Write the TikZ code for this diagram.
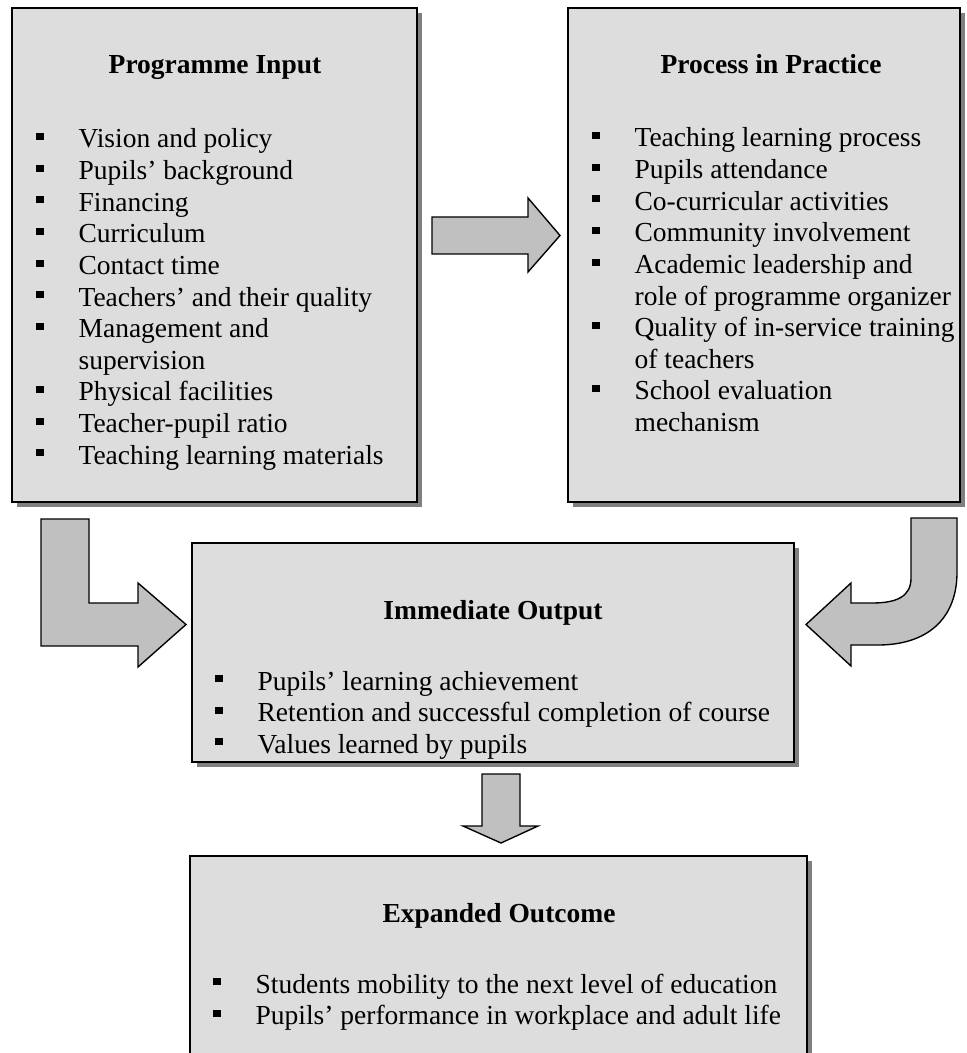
\documentclass[tikz,border=0pt]{standalone}
\usepackage{fontspec}
\setmainfont{Liberation Serif}
\usepackage{xcolor}
\definecolor{boxgray}{RGB}{221,221,221}
\definecolor{arrowgray}{RGB}{192,192,192}
\definecolor{shadowgray}{RGB}{128,128,128}
\usetikzlibrary{fit,shadows}
\newcommand{\bul}{\makebox[18.4pt][l]{\rule[3.4pt]{3.1pt}{3.1pt}}}

\begin{document}
\begin{tikzpicture}[
  x=0.4364pt, y=-0.4364pt,
  font=\fontsize{12}{13.8}\selectfont,
  box/.style={draw, line width=0.8pt, fill=boxgray, inner sep=0pt,
              drop shadow={shadow xshift=2.2pt, shadow yshift=-2.2pt,
                           fill=shadowgray, opacity=1}},
  head/.style={font=\fontsize{12}{13.8}\selectfont\bfseries, anchor=base,
               inner sep=0pt},
  items/.style={anchor=base west, inner sep=0pt},
  blockarrow/.style={draw, line width=0.6pt, fill=arrowgray, line join=miter},
]
\useasboundingbox (0,0) rectangle (967,1053);

% --- programme input ---
\node[box, fit={(12,8) (417,502)}] (input) {};
\node[head] (inputhead) at (215,74) {Programme Input};
\node[items] (inputlist) at (36,148) {\begin{tabular}[t]{@{}l@{}l@{}}
  \bul & Vision and policy\\
  \bul & Pupils' background\\
  \bul & Financing\\
  \bul & Curriculum\\
  \bul & Contact time\\
  \bul & Teachers' and their quality\\
  \bul & Management and\\
       & supervision\\
  \bul & Physical facilities\\
  \bul & Teacher-pupil ratio\\
  \bul & Teaching learning materials
\end{tabular}};

% --- process in practice ---
\node[box, fit={(568,8) (960,502)}] (process) {};
\node[head] (processhead) at (771,74) {Process in Practice};
\node[items] (processlist) at (592,147) {\begin{tabular}[t]{@{}l@{}l@{}}
  \bul & Teaching learning process\\
  \bul & Pupils attendance\\
  \bul & Co-curricular activities\\
  \bul & Community involvement\\
  \bul & Academic leadership and\\
       & role of programme organizer\\
  \bul & Quality of in-service training\\
       & of teachers\\
  \bul & School evaluation\\
       & mechanism
\end{tabular}};

% --- immediate output ---
\node[box, fit={(192,543) (794,762)}] (output) {};
\node[head] (outputhead) at (493,619) {Immediate Output};
\node[items] (outputlist) at (215,690) {\begin{tabular}[t]{@{}l@{}l@{}}
  \bul & Pupils' learning achievement\\
  \bul & Retention and successful completion of course\\
  \bul & Values learned by pupils
\end{tabular}};

% --- expanded outcome ---
\node[box, fit={(190,856) (807,1064)}] (outcome) {};
\node[head] (outcomehead) at (499,922) {Expanded Outcome};
\node[items] (outcomelist) at (213,993) {\begin{tabular}[t]{@{}l@{}l@{}}
  \bul & Students mobility to the next level of education\\
  \bul & Pupils' performance in workplace and adult life
\end{tabular}};

% --- block arrows ---
\draw[blockarrow] (432,217) -- (528,217) -- (528,198) -- (560,235.5)
  -- (528,272) -- (528,254) -- (432,254) -- cycle;
\draw[blockarrow] (41,519) -- (89,519) -- (89,603) -- (138,603) -- (138,583)
  -- (186,624.5) -- (138,667) -- (138,646) -- (41,646) -- cycle;
\draw[blockarrow] (911,518) -- (911,578) .. controls (911,597) and (896,603) .. (872,603)
  -- (851,603) -- (851,583) -- (806,624.5) -- (851,666) -- (851,645) -- (878,645)
  .. controls (926,645) and (957,620) .. (957,572) -- (957,518) -- cycle;
\draw[blockarrow] (482,774) -- (520,774) -- (520,826) -- (538,826) -- (501,843)
  -- (463,826) -- (482,826) -- cycle;
\end{tikzpicture}
\end{document}
